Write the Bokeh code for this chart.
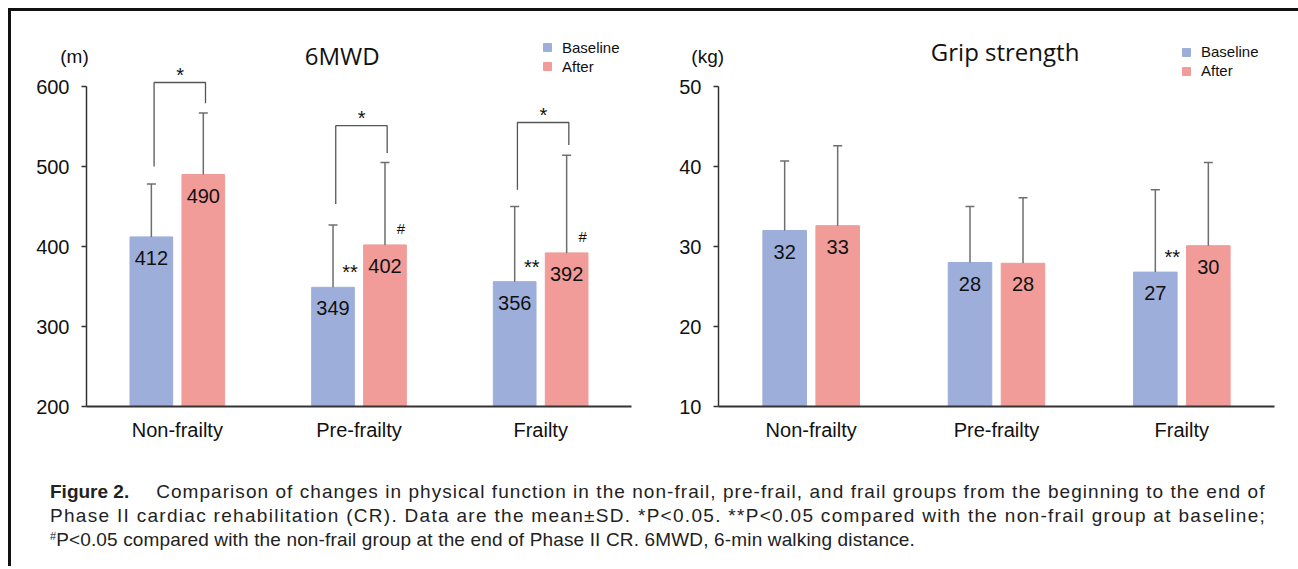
from bokeh.plotting import figure
from bokeh.models import (ColumnDataSource, Whisker, TeeHead, FixedTicker, Legend,
                          LegendItem, Label, Div, GridBox)
from bokeh.layouts import row, column
from bokeh.embed import file_html
from bokeh.resources import INLINE
from bokeh.core.properties import value

# ---------------- data ----------------
groups = ["Non-frailty", "Pre-frailty", "Frailty"]
series = ["Baseline", "After"]

mwd_base = [412, 349, 356]
mwd_base_sd = [66, 78, 94]
mwd_after = [490, 402, 392]
mwd_after_sd = [77, 103, 122]
mwd_base_mark = ["", "**", "**"]
mwd_after_mark = ["", "#", "#"]
mwd_bracket_top = [605, 551, 555]
mwd_bracket_left = [500, 453, 471]
mwd_bracket_right = [579, 517, 527]
mwd_bracket_mark = ["*", "*", "*"]
mwd_ticks = [200, 300, 400, 500, 600]

grip_base = [32.0, 28.0, 26.8]
grip_base_sd = [8.7, 7.0, 10.3]
grip_after = [32.6, 27.9, 30.1]
grip_after_sd = [10.0, 8.2, 10.4]
grip_base_mark = ["", "", "**"]
grip_after_mark = ["", "", ""]
grip_ticks = [10, 20, 30, 40, 50]

BLUE = "#9daedb"
PINK = "#f19c98"
ERR = "#6e6e6e"
AX = "#333333"
TXT = "#111111"
FONT = "Liberation Sans"
OFF = 0.143
BW = 0.235
AXIS_PX = 320      # pixel height of the tick span
HEAD_PX = 66       # extra room above the top tick for title / legend
FIG_H = 447


def make_chart(title, base, base_sd, after, after_sd, base_mark, after_mark,
               ticks, axis_w, bl, br, title_xy, legend_xy, brackets=None):
    ymin, ymax = ticks[0], ticks[-1]
    ytop = ymax + (ymax - ymin) * HEAD_PX / AXIS_PX
    n = len(groups)
    p = figure(frame_width=axis_w, frame_height=AXIS_PX + HEAD_PX, min_border_left=bl,
               min_border_right=br, min_border_top=9, min_border_bottom=52,
               x_range=(-0.5, n - 0.5), y_range=(ymin, ytop),
               output_backend="svg", toolbar_location=None,
               background_fill_color="white", border_fill_color="white")
    p.outline_line_color = None
    p.xgrid.visible = False
    p.ygrid.visible = False

    xb = [i - OFF for i in range(n)]
    xa = [i + OFF for i in range(n)]

    rb = p.vbar(x=xb, top=base, bottom=ymin, width=BW, fill_color=BLUE, line_color=BLUE)
    ra = p.vbar(x=xa, top=after, bottom=ymin, width=BW, fill_color=PINK, line_color=PINK)

    for xs, m, sd in ((xb, base, base_sd), (xa, after, after_sd)):
        src = ColumnDataSource(dict(x=xs, lower=m, upper=[a + b for a, b in zip(m, sd)]))
        w = Whisker(base="x", lower="lower", upper="upper", source=src, dimension="height",
                    line_color=ERR, line_width=1.5, lower_head=None,
                    upper_head=TeeHead(size=9, line_color=ERR, line_width=1.5),
                    level="annotation")
        p.add_layout(w)

    # value labels in bars
    for xs, m in ((xb, base), (xa, after)):
        p.text(x=xs, y=m, text=[str(round(v)) for v in m], y_offset=21,
               text_align="center", text_baseline="middle",
               text_font=value(FONT), text_font_size="20px", text_color=TXT)

    # significance marks
    p.text(x=xb, y=base, text=base_mark, x_offset=17, y_offset=-15,
           text_align="center", text_baseline="alphabetic",
           text_font=value(FONT), text_font_size="20px", text_color=TXT)
    p.text(x=xa, y=after, text=after_mark, x_offset=16, y_offset=-16,
           text_align="center", text_baseline="alphabetic",
           text_font=value(FONT), text_font_size="15px", text_color=TXT)

    if brackets is not None:
        top, lb, rbm, marks = brackets
        bxs = [[xb[i] + 0.015, xb[i] + 0.015, xa[i] + 0.012, xa[i] + 0.012] for i in range(n)]
        bys = [[lb[i], top[i], top[i], rbm[i]] for i in range(n)]
        p.multi_line(xs=bxs, ys=bys, line_color="#555555", line_width=1.3)
        p.text(x=[i + 0.015 for i in range(n)], y=top, text=marks, y_offset=-8,
               text_align="center", text_baseline="alphabetic",
               text_font=value(FONT), text_font_size="20px", text_color=TXT)

    # axes
    p.xaxis.ticker = FixedTicker(ticks=list(range(n)))
    p.xaxis.major_label_overrides = {i: g for i, g in enumerate(groups)}
    p.xaxis.axis_line_color = AX
    p.xaxis.axis_line_width = 2
    p.xaxis.major_tick_out = 0
    p.xaxis.major_tick_in = 0
    p.xaxis.minor_tick_line_color = None
    p.xaxis.major_label_standoff = 12
    p.xaxis.major_label_text_font = FONT
    p.xaxis.major_label_text_font_size = "20px"
    p.xaxis.major_label_text_color = TXT

    p.yaxis.ticker = FixedTicker(ticks=ticks)
    p.yaxis.bounds = (ymin, ymax)
    p.yaxis.axis_line_color = AX
    p.yaxis.axis_line_width = 1.5
    p.yaxis.major_tick_line_color = AX
    p.yaxis.major_tick_line_width = 1.5
    p.yaxis.major_tick_out = 5
    p.yaxis.major_tick_in = 0
    p.yaxis.minor_tick_line_color = None
    p.yaxis.major_label_standoff = 12
    p.yaxis.major_label_text_font = FONT
    p.yaxis.major_label_text_font_size = "20px"
    p.yaxis.major_label_text_color = TXT

    # title (screen units relative to frame bottom-left)
    p.add_layout(Label(x=title_xy[0], y=title_xy[1], x_units="screen", y_units="screen",
                       text=title, text_align="center", text_baseline="alphabetic",
                       text_font="Open Sans", text_font_size="24px", text_color=TXT))

    legend = Legend(items=[LegendItem(label=series[0], renderers=[rb]),
                           LegendItem(label=series[1], renderers=[ra])],
                    location=legend_xy, orientation="vertical",
                    padding=0, margin=0,
                    spacing=1, glyph_width=10, glyph_height=10, label_height=18,
                    label_standoff=10, border_line_color=None, background_fill_alpha=0,
                    label_text_font=FONT, label_text_font_size="15px",
                    label_text_color=TXT)
    p.add_layout(legend)
    return p


def unit_overlay(unit, w, cx, top):
    html = ('<div style="position:relative;width:%dpx;height:%dpx;">'
            '<span style="position:absolute;left:%.1fpx;top:%.1fpx;width:60px;text-align:center;'
            'font-family:\'Liberation Sans\',Arial,sans-serif;font-size:19px;line-height:19px;'
            'color:#111;white-space:nowrap;">%s</span></div>') % (w, FIG_H, cx - 30, top, unit)
    return Div(text=html, width=w, height=FIG_H, margin=0, styles={"pointer-events": "none"})


p1 = make_chart("6MWD", mwd_base, mwd_base_sd, mwd_after, mwd_after_sd,
                mwd_base_mark, mwd_after_mark, mwd_ticks, 545, 75, 24,
                (255.6, 351), (456, 331),
                brackets=(mwd_bracket_top, mwd_bracket_left, mwd_bracket_right, mwd_bracket_mark))
p2 = make_chart("Grip strength", grip_base, grip_base_sd, grip_after, grip_after_sd,
                grip_base_mark, grip_after_mark, grip_ticks, 556, 63, 14,
                (286.6, 355), (463, 326.5))

u1 = unit_overlay("(m)", 644, 63.5, 36.4)
u2 = unit_overlay("(kg)", 633, 52.7, 35.9)

charts = GridBox(children=[(p1, 0, 0), (p2, 0, 1), (u1, 0, 0), (u2, 0, 1)], spacing=0)

caption_html = (
    '<div style="font-family:\'Liberation Sans\',Arial,sans-serif;font-size:19px;'
    'line-height:24px;color:#222;white-space:nowrap;padding:22px 0 0 39px;">'
    '<b>Figure 2.</b><span style="margin-left:27px;letter-spacing:1.05px">Comparison of changes in physical function '
    'in the non-frail, pre-frail, and frail groups from the beginning to the end of</span><br>'
    '<span style="letter-spacing:1.3px">Phase II cardiac rehabilitation (CR). Data are the mean\u00b1SD. *P&lt;0.05. **P&lt;0.05 '
    'compared with the non-frail group at baseline;</span><br>'
    '<span style="font-size:11px;vertical-align:6px;line-height:0">#</span>'
    '<span style="letter-spacing:0.15px">P&lt;0.05 compared with the non-frail group at the end of '
    'Phase II CR. 6MWD, 6-min walking distance.</span></div>'
)
caption = Div(text=caption_html, width=1277, height=108, margin=0)

left_bar = Div(text="", width=3, height=558, margin=0, styles={"background-color": "#111"})
top_bar = Div(text="", width=1287, height=3, margin=0, styles={"background-color": "#111"})

layout = row(left_bar, column(top_bar, charts, caption), margin=(8, 0, 0, 8))

open("out.html", "w").write(file_html(layout, INLINE))
